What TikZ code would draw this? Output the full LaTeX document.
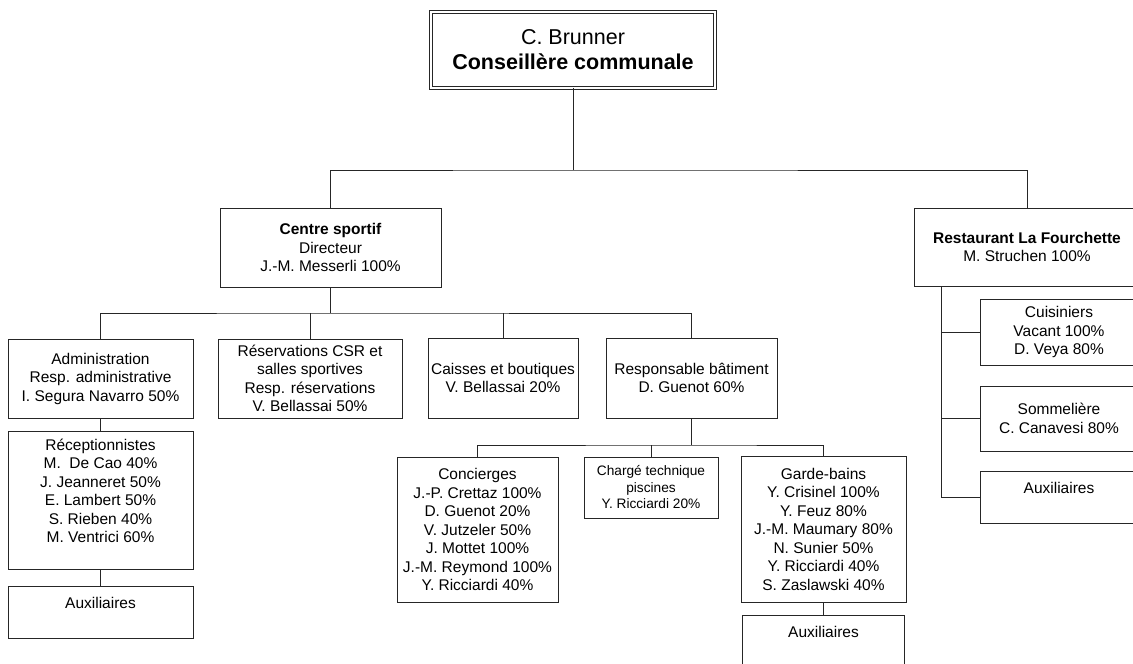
\documentclass[tikz,border=0pt]{standalone}
\usepackage{fontspec}
\setmainfont{Liberation Sans}
\usetikzlibrary{calc}
\newcommand{\orgfs}{\fontsize{15.5}{18.5}\selectfont}
\newcommand{\orgsmall}{\fontsize{13.7}{16.5}\selectfont}
\newcommand{\orgbig}{\fontsize{21.5}{25}\selectfont}
\tikzset{
  orgbox/.style 2 args={draw=black!85, line width=1pt, inner sep=0pt, align=center,
    font=\orgfs, text=black, minimum width=#1, minimum height=#2},
  link/.style={draw=black!85, line width=1pt}
}
\begin{document}
\begin{tikzpicture}[x=1pt,y=-1pt]
\useasboundingbox (0,0) rectangle (1133,664);
\clip (0,0) rectangle (1133,664);
\fill[white] (0,0) rectangle (1133,664);

% head of the department
\node[orgbox={284.6}{75.7}, double, double distance=2.3pt, font=\orgbig] (top) at (573,49.8)
  {C. Brunner\\\textbf{Conseillère communale}};

% second level
\node[orgbox={221}{79}] (cs) at (330.5,247.5)
  {\textbf{Centre sportif}\\Directeur\\J.-M. Messerli 100\%};
\node[orgbox={226}{78}] (rest) at (1027,247)
  {\textbf{Restaurant La Fourchette}\\M. Struchen 100\%};

% sports centre units
\node[orgbox={185}{79}] (admin) at (100.5,378.5)
  {Administration\\Resp. administrative\\I. Segura Navarro 50\%};
\node[orgbox={184}{79}] (resa) at (310,378.5)
  {Réservations CSR et\\salles sportives\\Resp. réservations\\V. Bellassai 50\%};
\node[orgbox={150}{80}] (caisses) at (503,378)
  {Caisses et boutiques\\V. Bellassai 20\%};
\node[orgbox={171}{80}] (respb) at (691.5,378)
  {Responsable bâtiment\\D. Guenot 60\%};

\node[orgbox={185}{138}] (recep) at (100.5,500)
  {Réceptionnistes\\M.\ \ De Cao 40\%\\J. Jeanneret 50\%\\E. Lambert 50\%\\S. Rieben 40\%\\M. Ventrici 60\%\\~};
\node[orgbox={185}{52}] (auxA) at (100.5,612) {Auxiliaires\\~};

\node[orgbox={161}{145}] (conc) at (477.5,529.5)
  {Concierges\\J.-P. Crettaz 100\%\\D. Guenot 20\%\\V. Jutzeler 50\%\\J. Mottet 100\%\\J.-M. Reymond 100\%\\Y. Ricciardi 40\%};
\node[orgbox={134}{61}, font=\orgsmall] (charge) at (651,487.5)
  {Chargé technique\\piscines\\Y. Ricciardi 20\%};
\node[orgbox={165}{146}] (garde) at (823.5,529)
  {Garde-bains\\Y. Crisinel 100\%\\Y. Feuz 80\%\\J.-M. Maumary 80\%\\N. Sunier 50\%\\Y. Ricciardi 40\%\\S. Zaslawski 40\%};
\node[orgbox={162}{52}] (auxG) at (823.5,641) {Auxiliaires\\~};

% restaurant units
\node[orgbox={158}{66}] (cuis) at (1059,332)
  {Cuisiniers\\Vacant 100\%\\D. Veya 80\%};
\node[orgbox={158}{65}] (somm) at (1059,418.5)
  {Sommelière\\C. Canavesi 80\%};
\node[orgbox={158}{52}] (auxR) at (1059,497) {Auxiliaires\\~};

% junction points
\coordinate (j0) at (573,170);
\coordinate (j1) at (330.5,313);
\coordinate (j2) at (691.5,445);
\coordinate (rtrunk) at ([xshift=28pt]rest.south west);

% connectors
\draw[link] (top.south) -- (j0);
\draw[link] (cs.north) |- (j0) -| (rest.north);

\draw[link] (cs.south) -- (j1);
\draw[link] (admin.north) |- (j1) -| (respb.north);
\draw[link] (resa.north) -- (resa.north |- j1);
\draw[link] (caisses.north) -- (caisses.north |- j1);

\draw[link] (admin.south) -- (recep.north);
\draw[link] (recep.south) -- (auxA.north);

\draw[link] (respb.south) -- (j2);
\draw[link] (conc.north) |- (j2) -| (garde.north);
\draw[link] (charge.north) -- (charge.north |- j2);
\draw[link] (garde.south) -- (auxG.north);

\draw[link] (rtrunk) |- (auxR.west);
\draw[link] (cuis.west) -- (cuis.west -| rtrunk);
\draw[link] (somm.west) -- (somm.west -| rtrunk);
\end{tikzpicture}
\end{document}
